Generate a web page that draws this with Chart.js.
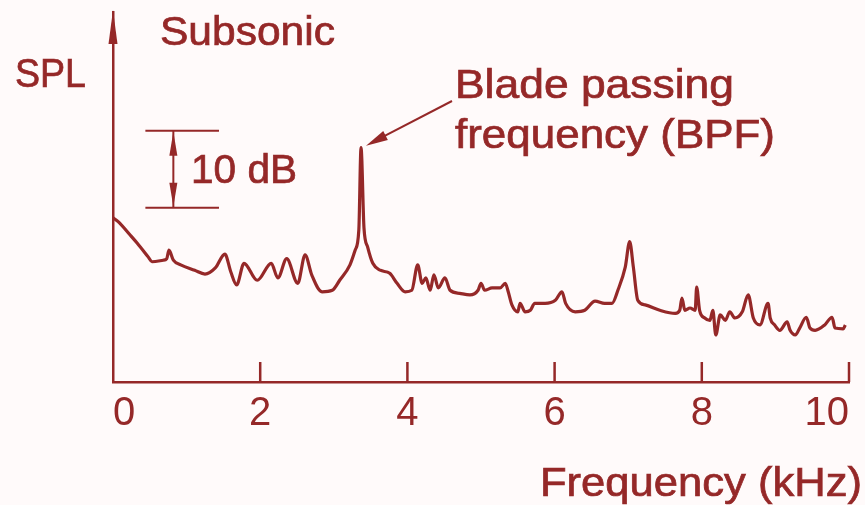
<!DOCTYPE html>
<html>
<head>
<meta charset="utf-8">
<script src="https://cdn.jsdelivr.net/npm/chart.js@4.4.1/dist/chart.umd.min.js"></script>
<style>
  html, body { margin: 0; padding: 0; background: #fffafa; }
  #wrap { width: 865px; height: 505px; }
</style>
</head>
<body>
<div id="wrap"><canvas id="spl" width="865" height="505"></canvas></div>
<script>
// ── Datos ───────────────────────────────────────────────────────────────
const freqKHz = [
  0.00, 0.07, 0.23, 0.33, 0.48, 0.53, 0.68, 0.73, 0.76, 0.82,
  0.92, 1.11, 1.25, 1.39, 1.52, 1.60, 1.68, 1.78, 1.96, 2.15,
  2.24, 2.36, 2.51, 2.61, 2.70, 2.84, 2.98, 3.08, 3.22, 3.29,
  3.34, 3.37, 3.41, 3.46, 3.53, 3.63, 3.76, 3.86, 3.97, 4.06,
  4.14, 4.20, 4.25, 4.31, 4.36, 4.42, 4.51, 4.58, 4.71, 4.85,
  4.96, 5.00, 5.05, 5.15, 5.26, 5.33, 5.37, 5.42, 5.50, 5.53,
  5.60, 5.67, 5.73, 5.87, 6.01, 6.10, 6.15, 6.28, 6.41, 6.55,
  6.68, 6.78, 6.86, 6.96, 7.02, 7.07, 7.13, 7.23, 7.43, 7.64,
  7.70, 7.73, 7.77, 7.84, 7.91, 7.93, 7.97, 8.04, 8.11, 8.15,
  8.19, 8.25, 8.32, 8.38, 8.45, 8.55, 8.63, 8.70, 8.79, 8.90,
  8.93, 8.99, 9.06, 9.16, 9.20, 9.27, 9.33, 9.42, 9.47, 9.54,
  9.67, 9.77, 9.81, 9.92, 9.95
];
const splDb = [
  21.3, 20.8, 19.1, 18.0, 16.2, 15.6, 15.8, 16.0, 17.1, 15.8,
  15.2, 14.5, 14.0, 14.8, 16.6, 14.3, 12.6, 15.4, 13.2, 15.4,
  13.5, 16.0, 12.8, 16.5, 13.9, 11.7, 11.9, 13.2, 15.2, 17.1,
  19.7, 30.4, 20.0, 17.5, 15.4, 14.5, 14.1, 12.8, 11.7, 11.9,
  15.2, 12.8, 13.5, 11.9, 13.9, 12.2, 13.5, 11.9, 11.5, 11.3,
  11.9, 12.8, 11.9, 12.2, 12.2, 12.8, 11.7, 10.0,  9.1, 10.2,
   9.1,  9.3, 10.2, 10.2, 10.6, 11.7, 10.2,  9.1,  9.3, 10.5,
  10.2, 10.2, 11.9, 14.9, 18.2, 14.9, 10.6, 10.0,  9.3,  8.9,
   9.3, 10.9,  9.3,  9.6,  9.3, 12.3,  9.3,  8.3,  8.0,  9.3,
   6.1,  8.7,  8.0,  9.1,  8.3,  9.1, 11.3,  8.3,  7.4, 10.2,
   8.3,  7.4,  6.7,  7.8,  6.7,  6.1,  7.0,  8.4,  7.0,  6.7,
   7.4,  8.4,  7.0,  6.9,  7.4
];
const xTicks = [0, 2, 4, 6, 8, 10];
const scaleBarDb = [22.6, 32.6];      // barra de referencia de 10 dB
const scaleBarKHz = [0.44, 1.44];

const ink = '#952828';
const FONT = '"Liberation Sans", Arial, Helvetica, sans-serif';

// ── Dibujo extra: flechas, marcas internas, textos ─────────────────────
function arrowHead(ctx, tx, ty, angle, len, half) {
  ctx.beginPath();
  ctx.moveTo(tx, ty);
  ctx.lineTo(tx - len * Math.cos(angle) + half * Math.sin(angle),
             ty - len * Math.sin(angle) - half * Math.cos(angle));
  ctx.lineTo(tx - len * Math.cos(angle) - half * Math.sin(angle),
             ty - len * Math.sin(angle) + half * Math.cos(angle));
  ctx.closePath();
  ctx.fill();
}

// texto estirado en horizontal hasta el ancho de la figura
function wideText(ctx, txt, x, y, width, alignRight) {
  const w = ctx.measureText(txt).width;
  const k = width / w;
  ctx.save();
  ctx.translate(alignRight ? x - width : x, y);
  ctx.scale(k, 1);
  ctx.textAlign = 'left';
  ctx.fillText(txt, 0, 0);
  ctx.strokeText(txt, 0, 0);
  ctx.restore();
}

const figureArt = {
  id: 'figureArt',
  afterDraw(chart) {
    const { ctx, chartArea: a, scales: { x, y } } = chart;
    ctx.save();
    ctx.strokeStyle = ink;
    ctx.fillStyle = ink;
    ctx.lineWidth = 2.5;

    // marcas del eje x hacia adentro
    xTicks.filter(v => v > 0).forEach(v => {
      const px = x.getPixelForValue(v);
      ctx.beginPath();
      ctx.moveTo(px, a.bottom);
      ctx.lineTo(px, a.bottom - 20);
      ctx.stroke();
    });

    // flecha del eje y
    arrowHead(ctx, a.left, a.top - 2, -Math.PI / 2, 34, 4.5);

    // barra de 10 dB
    const bx0 = x.getPixelForValue(scaleBarKHz[0]);
    const bx1 = x.getPixelForValue(scaleBarKHz[1]);
    const bxm = x.getPixelForValue((scaleBarKHz[0] + scaleBarKHz[1]) / 2 - 0.12);
    const yTop = y.getPixelForValue(scaleBarDb[1]);
    const yBot = y.getPixelForValue(scaleBarDb[0]);
    ctx.lineWidth = 2;
    ctx.beginPath();
    ctx.moveTo(bx0, yTop); ctx.lineTo(bx1, yTop);
    ctx.moveTo(bx0, yBot); ctx.lineTo(bx1, yBot);
    ctx.moveTo(bxm, yTop); ctx.lineTo(bxm, yBot);
    ctx.stroke();
    arrowHead(ctx, bxm, yTop + 1, -Math.PI / 2, 24, 4);
    arrowHead(ctx, bxm, yBot - 1, Math.PI / 2, 24, 4);

    // flecha hacia el pico BPF
    const iPk = splDb.indexOf(Math.max(...splDb));
    const tipX = x.getPixelForValue(freqKHz[iPk]) + 5;
    const tipY = y.getPixelForValue(splDb[iPk]) - 2;
    const fromX = 452, fromY = 101;
    const ang = Math.atan2(tipY - fromY, tipX - fromX);
    ctx.beginPath();
    ctx.moveTo(fromX, fromY);
    ctx.lineTo(tipX - 14 * Math.cos(ang), tipY - 14 * Math.sin(ang));
    ctx.stroke();
    arrowHead(ctx, tipX, tipY, ang, 22, 5);

    // textos
    ctx.font = '40px ' + FONT;
    ctx.textBaseline = 'alphabetic';
    ctx.lineWidth = 0.7;
    wideText(ctx, 'SPL', 15, 87, 71);
    wideText(ctx, 'Subsonic', 160, 45, 175);
    wideText(ctx, 'Blade passing', 455, 98, 279);
    wideText(ctx, 'frequency (BPF)', 455, 148, 320);
    wideText(ctx, '10 dB', 191, 183, 106);
    wideText(ctx, 'Frequency (kHz)', 862, 496, 322, true);
    ctx.restore();
  }
};

const points = freqKHz.map((f, i) => ({ x: f, y: splDb[i] }));

new Chart(document.getElementById('spl'), {
  type: 'line',
  data: {
    datasets: [{
      data: points,
      borderColor: ink,
      borderWidth: 3.2,
      pointRadius: 0,
      fill: false,
      cubicInterpolationMode: 'monotone'
    }]
  },
  options: {
    responsive: false,
    animation: false,
    layout: { padding: { left: 113, right: 16, top: 12, bottom: 0 } },
    plugins: { legend: { display: false }, tooltip: { enabled: false } },
    scales: {
      x: {
        type: 'linear',
        min: 0, max: 10,
        afterBuildTicks: s => { s.ticks = xTicks.map(v => ({ value: v })); },
        afterFit: s => { s.height = 123; },
        grid: { display: false, drawTicks: false },
        border: { display: true, color: ink, width: 2.5 },
        ticks: { color: ink, font: { family: FONT, size: 40 }, padding: 8, align: 'inner', maxRotation: 0 }
      },
      y: {
        min: 0, max: 48,
        grid: { display: false, drawTicks: false },
        border: { display: true, color: ink, width: 2.5 },
        ticks: { display: false }
      }
    }
  },
  plugins: [figureArt]
});
</script>
</body>
</html>
